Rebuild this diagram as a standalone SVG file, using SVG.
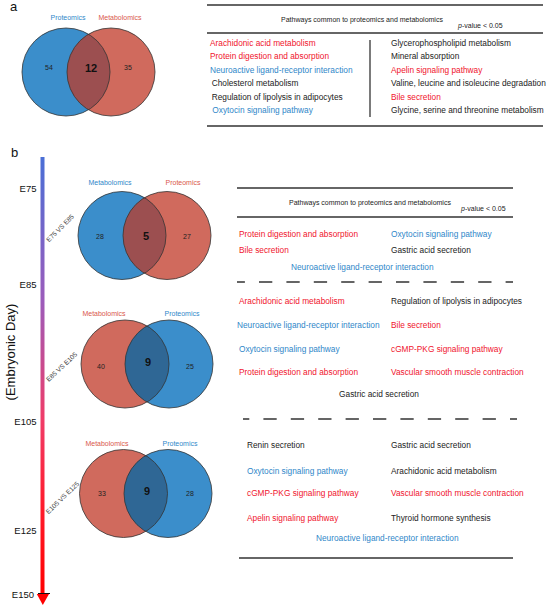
<svg xmlns="http://www.w3.org/2000/svg" width="550" height="609" viewBox="0 0 550 609">
<style>
text{font-family:"Liberation Sans",Arial,sans-serif;}
.lab{font-size:13px;fill:#111;}
.vl{font-size:7px;text-anchor:middle;}
.num{font-size:7px;text-anchor:middle;fill:#222;}
.big{font-size:11px;font-weight:bold;text-anchor:middle;fill:#111;}
.cmp{font-size:6.6px;fill:#444;text-anchor:middle;}
.hd{font-size:7px;fill:#222;}
.r{font-size:8.3px;}
.red{fill:#f0142d;}
.blu{fill:#2f87c9;}
.blk{fill:#222;}
.bl{fill:#3b8ecb;}
.rd{fill:#d06a5d;}
.ring{fill:none;stroke:#333;stroke-width:0.8;}
.sol{stroke:#333;stroke-width:1.3;}
.dsh{stroke:#333;stroke-width:1.3;stroke-dasharray:13.3 14.1;}
.day{font-size:9.5px;fill:#111;text-anchor:end;}
</style>
<defs>
<linearGradient id="bar" gradientUnits="userSpaceOnUse" x1="0" y1="157" x2="0" y2="594">
<stop offset="0" stop-color="#4a6fd6"/>
<stop offset="0.33" stop-color="#9c5cbb"/>
<stop offset="0.6" stop-color="#f03c68"/>
<stop offset="0.8" stop-color="#ff1c2c"/>
<stop offset="1" stop-color="#ff0000"/>
</linearGradient>
<clipPath id="ca"><circle cx="66" cy="72" r="44"/></clipPath>
<clipPath id="c1"><circle cx="122" cy="235.5" r="44"/></clipPath>
<clipPath id="c2"><circle cx="125" cy="364" r="44"/></clipPath>
<clipPath id="c3"><circle cx="123.5" cy="493.5" r="44"/></clipPath>
</defs>
<rect width="550" height="609" fill="#fff"/>

<!-- panel a -->
<text class="lab" x="10" y="11">a</text>
<g id="venn-a">
<circle class="bl" cx="66" cy="72" r="44"/>
<circle class="rd" cx="111" cy="72" r="44"/>
<circle cx="111" cy="72" r="44" fill="#9c4f50" clip-path="url(#ca)"/>
<circle class="ring" cx="66" cy="72" r="44"/>
<circle class="ring" cx="111" cy="72" r="44"/>
<text class="vl blu" x="68" y="19.5">Proteomics</text>
<text class="vl" x="120" y="19.5" fill="#d9584c">Metabolomics</text>
<text class="num" x="49" y="69.5">54</text>
<text class="big" x="91" y="71.5">12</text>
<text class="num" x="128" y="69.5">35</text>
</g>
<g id="table-a">
<line class="sol" x1="207" y1="5" x2="543" y2="5"/>
<text class="hd" x="362" y="21.5" text-anchor="middle">Pathways common to proteomics and metabolomics</text>
<text class="hd" x="458" y="27.5"><tspan font-style="italic">p</tspan>-value &lt; 0.05</text>
<line class="sol" x1="207" y1="33" x2="543" y2="33"/>
<line class="sol" x1="370" y1="40" x2="370" y2="117"/>
<text class="r red" x="210" y="46.3">Arachidonic acid metabolism</text>
<text class="r red" x="210" y="59">Protein digestion and absorption</text>
<text class="r blu" x="210" y="73">Neuroactive ligand-receptor interaction</text>
<text class="r blk" x="211.7" y="86.3">Cholesterol metabolism</text>
<text class="r blk" x="211.7" y="99.7">Regulation of lipolysis in adipocytes</text>
<text class="r blu" x="212.3" y="113">Oxytocin signaling pathway</text>
<text class="r blk" x="391" y="46.3">Glycerophospholipid metabolism</text>
<text class="r blk" x="391" y="59">Mineral absorption</text>
<text class="r red" x="391" y="73">Apelin signaling pathway</text>
<text class="r blk" x="391" y="86.3">Valine, leucine and isoleucine degradation</text>
<text class="r red" x="391" y="99.7">Bile secretion</text>
<text class="r blk" x="391" y="113">Glycine, serine and threonine metabolism</text>
<line class="sol" x1="207" y1="126" x2="543" y2="126"/>
</g>

<!-- panel b -->
<text class="lab" x="11" y="157">b</text>
<g id="timeline">
<rect x="40.5" y="157" width="4" height="437" fill="url(#bar)"/>
<polygon points="36.8,594 49,594 42.8,605" fill="#ff0000"/>
<line x1="38" y1="593.5" x2="50" y2="593.5" stroke="#111" stroke-width="1"/>
<text class="day" x="36.5" y="191.5">E75</text>
<text class="day" x="36.5" y="287.5">E85</text>
<text class="day" x="36.5" y="424.5">E105</text>
<text class="day" x="36.5" y="533.5">E125</text>
<text class="day" x="34" y="597.5">E150</text>
<text x="14.5" y="352" transform="rotate(-90 14.5 352)" font-size="13" fill="#111" text-anchor="middle">(Embryonic Day)</text>
</g>

<g id="venn-b1">
<circle class="bl" cx="122" cy="235.5" r="44"/>
<circle class="rd" cx="167" cy="235.5" r="44"/>
<circle cx="167" cy="235.5" r="44" fill="#9c4f50" clip-path="url(#c1)"/>
<circle class="ring" cx="122" cy="235.5" r="44"/>
<circle class="ring" cx="167" cy="235.5" r="44"/>
<text class="vl blu" x="110" y="184.5">Metabolomics</text>
<text class="vl" x="183" y="184.5" fill="#d9584c">Proteomics</text>
<text class="num" x="100" y="238.5">28</text>
<text class="big" x="146" y="240">5</text>
<text class="num" x="187" y="238.5">27</text>
<text class="cmp" x="60" y="230.5" transform="rotate(-45 60 228)">E75 VS E85</text>
</g>

<g id="venn-b2">
<circle class="rd" cx="125" cy="364" r="44"/>
<circle class="bl" cx="169" cy="364" r="44"/>
<circle cx="169" cy="364" r="44" fill="#2f6795" clip-path="url(#c2)"/>
<circle class="ring" cx="125" cy="364" r="44"/>
<circle class="ring" cx="169" cy="364" r="44"/>
<text class="vl" x="104" y="315.5" fill="#d9584c">Metabolomics</text>
<text class="vl blu" x="182" y="315.5">Proteomics</text>
<text class="num" x="101" y="368.5">40</text>
<text class="big" x="148" y="366">9</text>
<text class="num" x="190" y="368.5">25</text>
<text class="cmp" x="61.7" y="369" transform="rotate(-43 61.7 366.7)">E85 VS E105</text>
</g>

<g id="venn-b3">
<circle class="rd" cx="123.5" cy="493.5" r="44"/>
<circle class="bl" cx="168" cy="493.5" r="44"/>
<circle cx="168" cy="493.5" r="44" fill="#2f6795" clip-path="url(#c3)"/>
<circle class="ring" cx="123.5" cy="493.5" r="44"/>
<circle class="ring" cx="168" cy="493.5" r="44"/>
<text class="vl" x="107" y="445.5" fill="#d9584c">Metabolomics</text>
<text class="vl blu" x="180" y="445.5">Proteomics</text>
<text class="num" x="102" y="495.5">33</text>
<text class="big" x="147" y="495">9</text>
<text class="num" x="190" y="495.5">28</text>
<text class="cmp" x="62.5" y="500" transform="rotate(-44 62.5 497.7)">E105 VS E125</text>
</g>

<g id="table-b">
<line class="sol" x1="237" y1="188" x2="513" y2="188"/>
<text class="hd" x="370" y="204.5" text-anchor="middle">Pathways common to proteomics and metabolomics</text>
<text class="hd" x="461" y="210.5"><tspan font-style="italic">p</tspan>-value &lt; 0.05</text>
<line class="sol" x1="237" y1="217" x2="513" y2="217"/>
<text class="r red" x="239" y="237">Protein digestion and absorption</text>
<text class="r blu" x="391" y="237">Oxytocin signaling pathway</text>
<text class="r red" x="239" y="253">Bile secretion</text>
<text class="r blk" x="391" y="253">Gastric acid secretion</text>
<text class="r blu" x="291" y="270">Neuroactive ligand-receptor interaction</text>
<line class="dsh" x1="237" y1="282" x2="513" y2="282" stroke-dashoffset="5.4"/>
<text class="r red" x="239" y="304">Arachidonic acid metabolism</text>
<text class="r blk" x="391" y="304">Regulation of lipolysis in adipocytes</text>
<text class="r blu" x="237" y="328">Neuroactive ligand-receptor interaction</text>
<text class="r red" x="391" y="328">Bile secretion</text>
<text class="r blu" x="239" y="352">Oxytocin signaling pathway</text>
<text class="r red" x="391" y="352">cGMP-PKG signaling pathway</text>
<text class="r red" x="239" y="375">Protein digestion and absorption</text>
<text class="r red" x="391" y="375">Vascular smooth muscle contraction</text>
<text class="r blk" x="379" y="397" text-anchor="middle">Gastric acid secretion</text>
<line class="dsh" x1="243" y1="419" x2="517" y2="419" stroke-dashoffset="7"/>
<text class="r blk" x="247" y="448">Renin secretion</text>
<text class="r blk" x="391" y="448">Gastric acid secretion</text>
<text class="r blu" x="247" y="474">Oxytocin signaling pathway</text>
<text class="r blk" x="391" y="474">Arachidonic acid metabolism</text>
<text class="r red" x="247" y="496">cGMP-PKG signaling pathway</text>
<text class="r red" x="391" y="496">Vascular smooth muscle contraction</text>
<text class="r red" x="247" y="521">Apelin signaling pathway</text>
<text class="r blk" x="391" y="521">Thyroid hormone synthesis</text>
<text class="r blu" x="316" y="541">Neuroactive ligand-receptor interaction</text>
<line class="sol" x1="239" y1="558" x2="513" y2="558"/>
</g>
<g id="connectors"/>
</svg>
